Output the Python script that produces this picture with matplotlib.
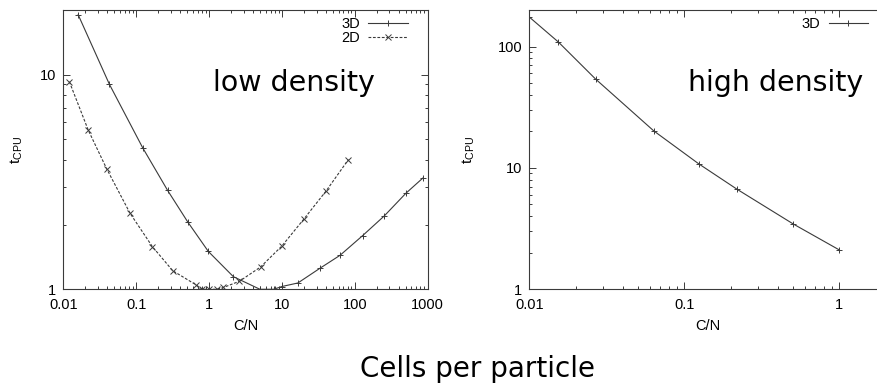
import matplotlib
matplotlib.use("Agg")
import matplotlib.pyplot as plt
from matplotlib.ticker import LogLocator, FixedLocator, FixedFormatter, NullFormatter

# left panel: low density, 3D and 2D runs
cn_3d_low = [0.016, 0.043, 0.123, 0.27, 0.51, 0.98, 2.16, 5.0, 7.7, 10.0,
             16.6, 33, 63, 129, 256, 504, 865]
t_3d_low = [19.0, 9.0, 4.56, 2.89, 2.06, 1.50, 1.145, 1.0, 1.0, 1.03,
            1.07, 1.25, 1.44, 1.78, 2.2, 2.8, 3.3]

cn_2d_low = [0.0121, 0.022, 0.0394, 0.0824, 0.167, 0.318, 0.66, 0.81, 1.01,
             1.28, 1.58, 2.62, 5.1, 10.0, 20.2, 40.5, 82]
t_2d_low = [9.27, 5.51, 3.64, 2.26, 1.58, 1.22, 1.05, 1.0, 1.0,
            1.0, 1.02, 1.09, 1.27, 1.59, 2.13, 2.87, 4.02]

# right panel: high density, 3D only
cn_3d_high = [0.01, 0.0154, 0.0268, 0.0635, 0.124, 0.219, 0.505, 1.0]
t_3d_high = [175, 109, 53.9, 20.2, 10.8, 6.67, 3.45, 2.11]

left_xticks = [0.01, 0.1, 1, 10, 100, 1000]
left_xlabels = ["0.01", "0.1", "1", "10", "100", "1000"]
left_yticks = [1, 10]
right_xticks = [0.01, 0.1, 1]
right_xlabels = ["0.01", "0.1", "1"]
right_yticks = [1, 10, 100]

LINE = "#3a3a3a"
TICK_FONT = ["Liberation Sans Narrow", "Liberation Sans", "DejaVu Sans"]

plt.rcParams["font.family"] = TICK_FONT
plt.rcParams["mathtext.fontset"] = "custom"
plt.rcParams["mathtext.rm"] = "Liberation Sans"
plt.rcParams["mathtext.it"] = "Liberation Sans"


def style_axes(ax, xticks, xlabels, yticks):
    ax.set_xscale("log")
    ax.set_yscale("log")
    ax.xaxis.set_major_locator(FixedLocator(xticks))
    ax.xaxis.set_major_formatter(FixedFormatter(xlabels))
    ax.xaxis.set_minor_locator(LogLocator(base=10, subs=range(2, 10), numticks=20))
    ax.xaxis.set_minor_formatter(NullFormatter())
    ax.yaxis.set_major_locator(FixedLocator(yticks))
    ax.yaxis.set_major_formatter(FixedFormatter([str(v) for v in yticks]))
    ax.yaxis.set_minor_locator(LogLocator(base=10, subs=range(2, 10), numticks=20))
    ax.yaxis.set_minor_formatter(NullFormatter())
    ax.tick_params(which="both", direction="in", top=True, right=True,
                   color=LINE, width=0.7)
    ax.tick_params(which="major", length=5, labelsize=10.5)
    ax.tick_params(which="minor", length=2.5)
    ax.tick_params(axis="x", pad=6)
    ax.tick_params(axis="y", pad=5)
    for sp in ax.spines.values():
        sp.set_color(LINE)
        sp.set_linewidth(0.8)
    ax.set_xlabel("C/N", fontsize=10.5, labelpad=5)


fig = plt.figure(figsize=(8.77, 3.87), dpi=100)

ax1 = fig.add_axes([0.0722, 0.2525, 0.4153, 0.7217])
ax1.plot(cn_3d_low, t_3d_low, color=LINE, lw=0.8, marker="+", ms=5, mew=0.7,
         label="3D")
ax1.plot(cn_2d_low, t_2d_low, color=LINE, lw=0.8, ls=(0, (2.5, 1.5)),
         marker="x", ms=4, mew=0.7, label="2D")
ax1.set_xlim(0.01, 1000)
ax1.set_ylim(1, 20)
style_axes(ax1, left_xticks, left_xlabels, left_yticks)
ax1.set_ylabel(r"$\mathregular{t_{CPU}}$", fontsize=11)
ax1.yaxis.set_label_coords(-0.105, 0.5)
ax1.legend(loc="upper right", bbox_to_anchor=(0.97, 1.005), frameon=False,
           markerfirst=False, fontsize=10.5, handlelength=2.7, handletextpad=0.6,
           labelspacing=-0.05, borderaxespad=0.2)
ax1.text(0.411, 0.71, "low density", transform=ax1.transAxes, fontsize=20.5,
         family="DejaVu Sans", ha="left", va="baseline")

ax2 = fig.add_axes([0.6035, 0.2525, 0.4067, 0.7217])
ax2.plot(cn_3d_high, t_3d_high, color=LINE, lw=0.8, marker="+", ms=5, mew=0.7,
         label="3D")
ax2.set_xlim(0.01, 2)
ax2.set_ylim(1, 200)
style_axes(ax2, right_xticks, right_xlabels, right_yticks)
ax2.set_ylabel(r"$\mathregular{t_{CPU}}$", fontsize=11)
ax2.yaxis.set_label_coords(-0.147, 0.5)
ax2.legend(loc="upper right", bbox_to_anchor=(874 / 877, 1 - 11 / 387),
           bbox_transform=fig.transFigure, frameon=False, markerfirst=False,
           fontsize=10.5, handlelength=2.7, handletextpad=0.6, borderaxespad=0.0)
ax2.text(0.445, 0.71, "high density", transform=ax2.transAxes, fontsize=20.5,
         family="DejaVu Sans", ha="left", va="baseline")

fig.text(477.5 / 877, 1 - 377 / 387, "Cells per particle", fontsize=20,
         family="DejaVu Sans", ha="center", va="baseline")

fig.savefig("out.png", dpi=100)
